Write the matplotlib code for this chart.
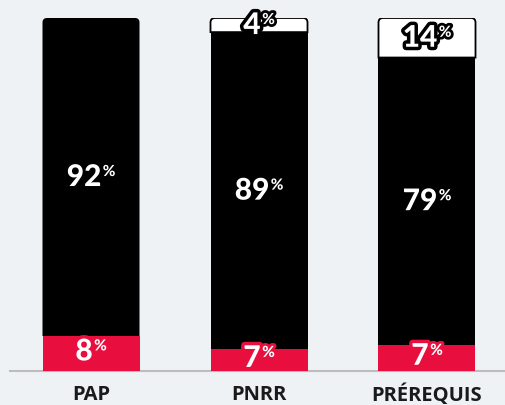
import matplotlib
matplotlib.use("Agg")
import matplotlib.pyplot as plt
from matplotlib.patches import PathPatch, Rectangle
from matplotlib.path import Path
from matplotlib.transforms import offset_copy
import matplotlib.patheffects as pe

categories = ["PAP", "PNRR", "PRÉREQUIS"]
red_vals = [9.9, 6.2, 7.4]
black_vals = [90.1, 89.8, 81.4]
white_vals = [0.0, 4.0, 11.2]
red_labels = ["8", "7", "7"]
black_labels = ["92", "89", "79"]
white_labels = [None, "4", "14"]

BG = "#eef2f5"
RED = "#e80f3e"
BLACK = "#000000"
WHITE = "#ffffff"

W, H = 505, 405
fig = plt.figure(figsize=(W / 100, H / 100), dpi=100, facecolor=BG)
ax = fig.add_axes([10 / W, 34 / H, 495 / W, 353 / H])
ax.set_facecolor(BG)
px_per_unit = 168.0
ax.set_xlim((10 - 91) / px_per_unit, (505 - 91) / px_per_unit)
ax.set_ylim(0, 100)
ax.axis("off")

bar_w = 97 / px_per_unit
radius_px = 4.5
r_x = radius_px / px_per_unit
r_y = radius_px * 100 / 353


def top_rounded(left, bottom, width, height):
    right = left + width
    top = bottom + height
    verts = [(left, bottom), (left, top - r_y), (left, top), (left + r_x, top),
             (right - r_x, top), (right, top), (right, top - r_y),
             (right, bottom), (left, bottom)]
    codes = [Path.MOVETO, Path.LINETO, Path.CURVE3, Path.CURVE3,
             Path.LINETO, Path.CURVE3, Path.CURVE3, Path.LINETO, Path.CLOSEPOLY]
    return Path(verts, codes)


num_font = dict(family="Lato", weight=900)
cat_font = dict(family="Open Sans", weight="bold")

texts = []

for i, cat in enumerate(categories):
    left = i - bar_w / 2
    r, b, w = red_vals[i], black_vals[i], white_vals[i]
    if w > 0:
        ax.add_patch(PathPatch(top_rounded(left, r + b, bar_w, w),
                               facecolor=WHITE, edgecolor=BLACK,
                               linewidth=1.3, zorder=2))
        ax.add_patch(Rectangle((left, r), bar_w, b, facecolor=BLACK,
                               edgecolor="none", zorder=3))
    else:
        ax.add_patch(PathPatch(top_rounded(left, r, bar_w, b),
                               facecolor=BLACK, edgecolor="none", zorder=3))
    ax.add_patch(Rectangle((left, 0), bar_w, r, facecolor=RED,
                           edgecolor="none", zorder=4))

    segs = [(r / 2 + 0.6, red_labels[i], RED),
            (r + b / 2, black_labels[i], BLACK),
            (r + b + w / 2, white_labels[i], BLACK)]
    for yc, lab, col in segs:
        if lab is None:
            continue
        t1 = ax.text(i, yc, lab, color=WHITE, fontsize=21.5, ha="left",
                     va="center", zorder=6, clip_on=False, **num_font,
                     path_effects=[pe.withStroke(linewidth=5, foreground=col)])
        t2 = ax.text(i, yc, "%", color=WHITE, fontsize=11, ha="left",
                     va="center", zorder=6, clip_on=False, **num_font,
                     path_effects=[pe.withStroke(linewidth=4, foreground=col)])
        texts.append((i, yc, t1, t2))

    ax.text(i, 0, cat, transform=offset_copy(ax.transData, fig=fig, x=0, y=-24, units="dots"),
            color="#1a1a1a", fontsize=14.5, ha="center", va="center", **cat_font)

ax.axhline(0, color="#bdbdbd", linewidth=1.5, zorder=1, clip_on=False)

fig.canvas.draw()
renderer = fig.canvas.get_renderer()
for i, yc, t1, t2 in texts:
    w1 = t1.get_window_extent(renderer).width
    w2 = t2.get_window_extent(renderer).width
    gap = 1.5
    total = w1 + gap + w2
    t1.set_transform(offset_copy(ax.transData, fig=fig, x=-total / 2, y=0, units="dots"))
    t2.set_transform(offset_copy(ax.transData, fig=fig, x=-total / 2 + w1 + gap, y=5, units="dots"))

fig.savefig("out.png", dpi=100, facecolor=BG)
